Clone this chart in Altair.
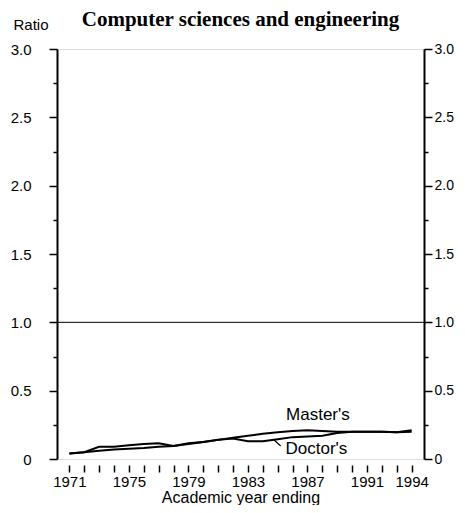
import altair as alt
import pandas as pd

years = list(range(1971, 1995))
masters = [0.04, 0.05, 0.06, 0.07, 0.075, 0.08, 0.09, 0.095, 0.115, 0.125, 0.14, 0.155,
           0.17, 0.185, 0.195, 0.205, 0.21, 0.205, 0.2, 0.2, 0.2, 0.2, 0.195, 0.21]
doctors = [0.04, 0.05, 0.09, 0.09, 0.10, 0.11, 0.115, 0.095, 0.11, 0.125, 0.14, 0.15,
           0.13, 0.13, 0.145, 0.16, 0.165, 0.17, 0.19, 0.2, 0.2, 0.2, 0.195, 0.2]
label_years = [1971, 1975, 1979, 1983, 1987, 1991, 1994]
y_ticks = [0, 0.25, 0.5, 0.75, 1.0, 1.25, 1.5, 1.75, 2.0, 2.25, 2.5, 2.75, 3.0]
ann_text = ["Master's", "Doctor's"]
ann_year = [1987.7, 1987.6]
ann_ratio = [0.32, 0.07]
ptr_year = [1984.7]
ptr_year2 = [1985.2]
ptr_ratio = [0.144]
ptr_ratio2 = [0.095]
ref_ratio = [1.0]

df = pd.DataFrame({
    "year": years * 2,
    "ratio": masters + doctors,
    "series": ["Master's"] * len(years) + ["Doctor's"] * len(years),
})
ann = pd.DataFrame({"text": ann_text, "year": ann_year, "ratio": ann_ratio})
ptr = pd.DataFrame({"year": ptr_year, "year2": ptr_year2, "ratio": ptr_ratio, "ratio2": ptr_ratio2})
ref = pd.DataFrame({"ratio": ref_ratio})

FONT = "Liberation Sans"
xscale = alt.Scale(domain=[1970.17, 1994.83], nice=False, zero=False)
yscale = alt.Scale(domain=[0, 3], nice=False)

label_test = " || ".join(f"datum.value == {y}" for y in label_years)
xaxis = alt.Axis(
    values=years, format="d", domain=False, grid=False, offset=6,
    tickSize=7, tickWidth=1.5, tickColor="black",
    labelExpr=f"({label_test}) ? format(datum.value, 'd') : ''",
    labelFont=FONT, labelFontSize=15, labelColor="black", labelPadding=2,
    labelOverlap=False, labelFlush=False,
    title="Academic year ending", titleFont=FONT, titleFontSize=16,
    titleFontWeight="normal", titleColor="black", titlePadding=0,
)

ylabel_expr = "datum.value == 0 ? '0' : (datum.value % 0.5 == 0 ? format(datum.value, '.1f') : '')"
tick_size = {"condition": {"test": "datum.value % 0.5 == 0", "value": 8}, "value": 4}

yaxis_left = alt.Axis(
    values=y_ticks, orient="left", grid=False, domainColor="black", domainWidth=2,
    tickColor="black", tickWidth=1.5, tickSize=tick_size,
    labelExpr=ylabel_expr, labelFont=FONT, labelFontSize=15, labelColor="black",
    labelPadding=18,
    title="Ratio", titleAngle=0, titleX=-44, titleY=-25, titleAlign="left",
    titleBaseline="middle", titleFont=FONT, titleFontSize=15,
    titleFontWeight="normal", titleColor="black",
)
yaxis_right = alt.Axis(
    values=y_ticks, orient="right", grid=False, domainColor="black", domainWidth=2,
    tickColor="black", tickWidth=1.5, tickSize=tick_size,
    labelExpr=ylabel_expr, labelFont=FONT, labelFontSize=14, labelColor="black",
    labelPadding=2, title=None,
)

lines = alt.Chart(df).mark_line(color="black", strokeWidth=2).encode(
    x=alt.X("year:Q", scale=xscale, axis=xaxis),
    y=alt.Y("ratio:Q", scale=yscale, axis=yaxis_left),
    detail="series:N",
)

refline = alt.Chart(ref).mark_rule(color="black", strokeWidth=1).encode(
    y=alt.Y("ratio:Q", scale=yscale, axis=yaxis_right),
)

labels = alt.Chart(ann).mark_text(
    font=FONT, fontSize=17, color="black", align="center", baseline="middle"
).encode(
    x=alt.X("year:Q", scale=xscale, axis=xaxis),
    y=alt.Y("ratio:Q", scale=yscale, axis=None),
    text="text:N",
)

pointer = alt.Chart(ptr).mark_rule(color="black", strokeWidth=1.2).encode(
    x=alt.X("year:Q", scale=xscale, axis=xaxis),
    x2="year2:Q",
    y=alt.Y("ratio:Q", scale=yscale, axis=None),
    y2="ratio2:Q",
)

chart = alt.layer(lines, refline, labels, pointer).resolve_axis(
    y="independent"
).properties(
    width=367,
    height=410,
    autosize=alt.AutoSizeParams(type="none"),
    padding={"left": 49, "top": 41, "right": 33, "bottom": 46},
    title=alt.TitleParams(
        "Computer sciences and engineering", font="Liberation Serif", fontSize=21,
        fontWeight="bold", anchor="middle", frame="group", color="black", offset=-13,
    ),
).configure_view(stroke=None).configure(background="white")

chart.save("out.html", embed_options={"renderer": "svg", "actions": False})
